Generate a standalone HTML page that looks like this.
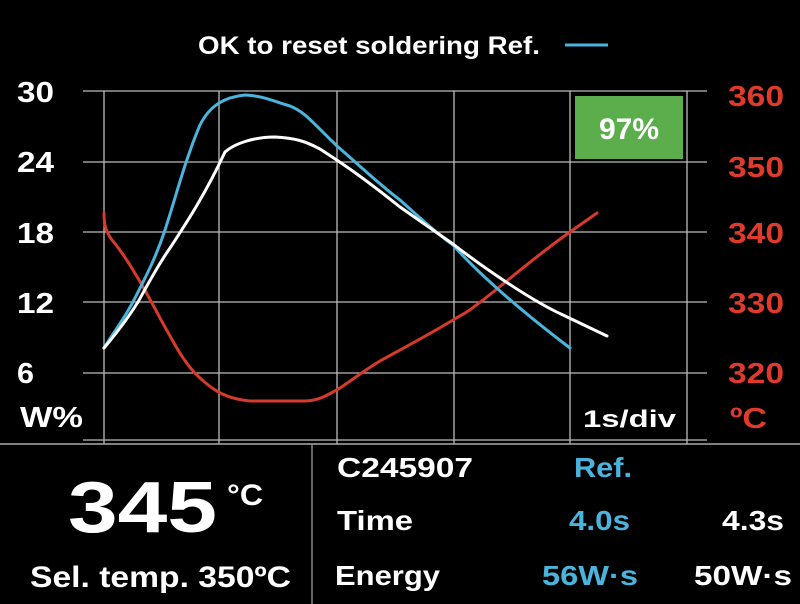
<!DOCTYPE html>
<html><head><meta charset="utf-8"><style>
html,body{margin:0;padding:0;background:#000;width:800px;height:604px;overflow:hidden}
svg{display:block}
text{font-family:"Liberation Sans",sans-serif;font-weight:bold}
</style></head><body>
<svg width="800" height="604" viewBox="0 0 800 604" xmlns="http://www.w3.org/2000/svg">
<rect width="800" height="604" fill="#000"/>
<text x="198" y="54" font-size="25" fill="#fff" textLength="342" lengthAdjust="spacingAndGlyphs">OK to reset soldering Ref.</text>
<line x1="565" y1="45" x2="608" y2="45" stroke="#4ab4dc" stroke-width="3"/>
<g stroke="#bbb" stroke-width="1.3">
<line x1="83" y1="91" x2="707" y2="91"/>
<line x1="83" y1="162" x2="707" y2="162"/>
<line x1="83" y1="232" x2="707" y2="232"/>
<line x1="83" y1="302" x2="707" y2="302"/>
<line x1="83" y1="373" x2="707" y2="373"/>
<line x1="83" y1="440" x2="707" y2="440"/>
<line x1="104" y1="91" x2="104" y2="444"/>
<line x1="219" y1="91" x2="219" y2="444"/>
<line x1="337" y1="91" x2="337" y2="444"/>
<line x1="454" y1="91" x2="454" y2="444"/>
<line x1="570" y1="91" x2="570" y2="444"/>
<line x1="687" y1="91" x2="687" y2="444"/>
</g>
<line x1="0" y1="444" x2="800" y2="444" stroke="#aaa" stroke-width="1.5"/>
<line x1="312" y1="444" x2="312" y2="604" stroke="#999" stroke-width="1.3"/>
<g font-size="29" fill="#fff">
<text x="17" y="102" textLength="37" lengthAdjust="spacingAndGlyphs">30</text>
<text x="17" y="172" textLength="37" lengthAdjust="spacingAndGlyphs">24</text>
<text x="17" y="243" textLength="37" lengthAdjust="spacingAndGlyphs">18</text>
<text x="17" y="313" textLength="37" lengthAdjust="spacingAndGlyphs">12</text>
<text x="17" y="383" textLength="17" lengthAdjust="spacingAndGlyphs">6</text>
<text x="20" y="427" textLength="63" lengthAdjust="spacingAndGlyphs">W%</text>
</g>
<g font-size="29" fill="#e03a2a">
<text x="728" y="106" textLength="56" lengthAdjust="spacingAndGlyphs">360</text>
<text x="728" y="177" textLength="56" lengthAdjust="spacingAndGlyphs">350</text>
<text x="728" y="243" textLength="56" lengthAdjust="spacingAndGlyphs">340</text>
<text x="728" y="313" textLength="56" lengthAdjust="spacingAndGlyphs">330</text>
<text x="728" y="383" textLength="56" lengthAdjust="spacingAndGlyphs">320</text>
<text x="730" y="428" textLength="37" lengthAdjust="spacingAndGlyphs">ºC</text>
</g>
<text x="583" y="427" font-size="24" fill="#fff" textLength="93" lengthAdjust="spacingAndGlyphs">1s/div</text>
<rect x="575" y="96" width="108" height="63" fill="#5cae4c"/>
<text x="629" y="139" font-size="30" fill="#fff" text-anchor="middle">97%</text>
<g fill="none" stroke-width="3" stroke-linejoin="round" stroke-linecap="round">
<path stroke="#d63a2a" d="M104,213 C104,225 106,232 112,240 C125,255 140,280 160,318 C175,345 185,365 200,378 C215,392 228,399 250,401 L305,401 C318,401 328,395 340,388 C355,378 365,370 380,361 C400,350 430,334 453,320 C463,314 468,312 475,306 C495,292 530,260 570,232 L597,213"/>
<path stroke="#4ab4dc" d="M104,348 C115,330 125,318 135,298 C145,278 155,260 165,230 C175,200 185,160 200,125 C210,105 225,97 245,95 C265,96 275,102 290,106 C305,112 312,122 337,146 C360,166 380,185 400,200 C420,218 440,236 453,245 C480,275 520,310 570,348"/>
<path stroke="#fff" d="M104,348 C115,335 128,318 138,302 C148,284 158,265 170,248 C185,225 205,195 225,152 C235,143 255,137 275,137 C295,138 305,141 320,149 C340,162 360,175 400,207 C430,228 453,244 453,244 C480,265 530,300 563,315 L607,336"/>
</g>
<text x="68" y="532" font-size="72" fill="#fff" textLength="149" lengthAdjust="spacingAndGlyphs">345</text>
<text x="227" y="505" font-size="30" fill="#fff" textLength="36" lengthAdjust="spacingAndGlyphs">°C</text>
<text x="30" y="587" font-size="30" fill="#fff" textLength="261" lengthAdjust="spacingAndGlyphs">Sel. temp. 350ºC</text>
<g font-size="28" fill="#fff">
<text x="337" y="477" textLength="136" lengthAdjust="spacingAndGlyphs">C245907</text>
<text x="574" y="477" fill="#4ab4dc" textLength="58" lengthAdjust="spacingAndGlyphs">Ref.</text>
<text x="337" y="530" textLength="76" lengthAdjust="spacingAndGlyphs">Time</text>
<text x="569" y="530" fill="#4ab4dc" textLength="61" lengthAdjust="spacingAndGlyphs">4.0s</text>
<text x="722" y="530" textLength="62" lengthAdjust="spacingAndGlyphs">4.3s</text>
<text x="335" y="585" textLength="105" lengthAdjust="spacingAndGlyphs">Energy</text>
<text x="542" y="585" fill="#4ab4dc" textLength="96" lengthAdjust="spacingAndGlyphs">56W·s</text>
<text x="694" y="585" textLength="98" lengthAdjust="spacingAndGlyphs">50W·s</text>
</g>
</svg>
</body></html>
